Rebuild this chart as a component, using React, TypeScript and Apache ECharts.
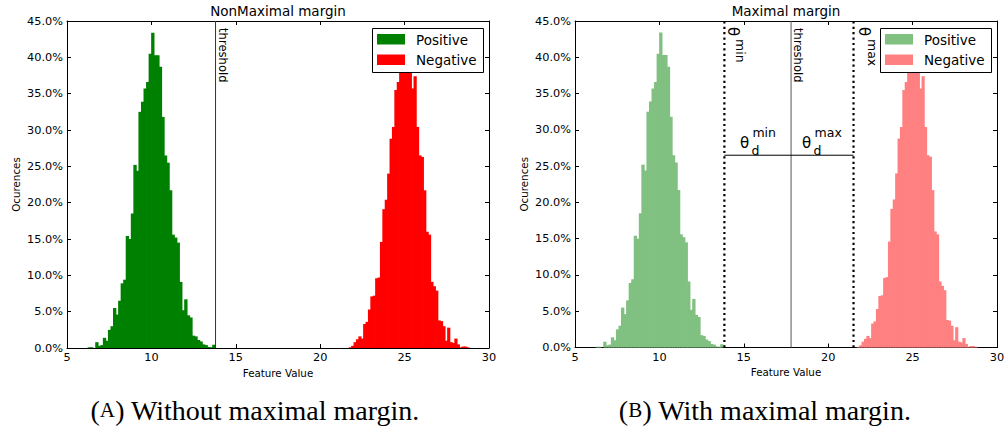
import React, { useEffect, useRef } from "react";
import * as echarts from "echarts";

// ---- data ----
const X_TICKS = [5, 10, 15, 20, 25, 30];
const Y_MAX_PCT = 45;
const Y_STEP_PCT = 5;

// Positive (green) histogram: 50 bins, first edge and bin width
const POS_START = 6.22;
const POS_WIDTH = 0.1506;
const POS_VALUES = [
  0.1, 0.1, 0, 0.8, 0.3, 0.4, 1.4, 1.0, 2.5, 3.0,
  5.5, 4.6, 6.5, 8.9, 9.4, 15.4, 15.0, 18.5, 25.2, 24.4,
  32.5, 33.9, 35.7, 36.6, 40.5, 43.4, 40.3, 40.3, 38.7, 31.8,
  26.5, 25.5, 21.7, 15.6, 15.2, 14.5, 9.1, 5.2, 6.7, 4.5,
  4.2, 1.7, 1.6, 1.1, 0.9, 0.5, 0.4, 0.15, 0.1, 0.45,
];

// Negative (red) histogram
const NEG_START = 21.69;
const NEG_WIDTH = 0.1422;
const NEG_VALUES = [
  0.1, 0.3, 0.8, 1.2, 1.6, 1.3, 3.3, 3.6, 5.3, 7.1,
  7.2, 9.6, 9.7, 14.6, 19.1, 20.4, 24.0, 28.8, 30.4, 35.5,
  36.6, 40.0, 43.0, 41.0, 42.0, 38.5, 35.7, 37.4, 30.4, 26.5,
  26.3, 21.7, 16.0, 15.6, 9.1, 8.5, 7.9, 3.8, 3.7, 3.0,
  1.0, 2.8, 0.8, 0.7, 1.3, 0.5, 0.1, 0.2, 0.2, 0.1,
];

const THRESHOLD_A = 13.8;
const THETA_MIN = 13.85;
const THRESHOLD_B = 17.8;
const THETA_MAX = 21.5;
const MARGIN_LEVEL_PCT = 26.5;

const TITLES = ["NonMaximal margin", "Maximal margin"];
const LEGEND_NAMES = ["Positive", "Negative"];
const X_NAME = "Feature Value";
const Y_NAME = "Ocurences";
const CAPTIONS = [
  ["A", " Without maximal margin."],
  ["B", " With maximal margin."],
];

const FONT = "DejaVu Sans";

const GRIDS = [
  { left: 67, top: 21, width: 422, height: 327 },
  { left: 575, top: 21, width: 422, height: 326.5 },
];

function histSeries(
  name: string,
  start: number,
  width: number,
  values: number[],
  color: string,
  axisIdx: number
) {
  const data = values.map((v, i) => [start + i * width, start + (i + 1) * width, v]);
  return {
    type: "custom",
    name,
    xAxisIndex: axisIdx,
    yAxisIndex: axisIdx,
    data,
    encode: { x: [0, 1], y: 2 },
    z: 2,
    renderItem: (_params: any, api: any) => {
      const p0 = api.coord([api.value(0), 0]);
      const p1 = api.coord([api.value(1), api.value(2)]);
      return {
        type: "rect",
        shape: { x: p0[0], y: p1[1], width: p1[0] - p0[0] + 0.8, height: p0[1] - p1[1] },
        style: { fill: color },
      };
    },
  };
}

function lineSeries(points: number[][], axisIdx: number, style: any) {
  return {
    type: "line",
    xAxisIndex: axisIdx,
    yAxisIndex: axisIdx,
    data: points,
    symbol: "none",
    silent: true,
    z: 5,
    lineStyle: style,
  };
}

export default function App() {
  const ref = useRef<HTMLDivElement>(null);

  useEffect(() => {
    if (!ref.current) return;
    const chart = echarts.init(ref.current, undefined, { renderer: "svg" });

    const xAxes: any[] = [];
    const yAxes: any[] = [];
    GRIDS.forEach((_g, gi) => {
      const base = {
        gridIndex: gi,
        type: "value",
        axisLine: { show: true, onZero: false, lineStyle: { color: "#000", width: 1 } },
        axisTick: { show: true, inside: true, length: 4, lineStyle: { color: "#000" } },
        splitLine: { show: false },
      };
      xAxes.push({
        ...base,
        position: "bottom",
        min: X_TICKS[0],
        max: X_TICKS[X_TICKS.length - 1],
        interval: 5,
        name: X_NAME,
        nameLocation: "middle",
        nameGap: 18,
        nameTextStyle: { fontFamily: FONT, fontSize: 10.3, color: "#000" },
        axisLabel: { fontFamily: FONT, fontSize: 11.3, color: "#000", margin: 4 },
      });
      xAxes.push({
        ...base,
        position: "top",
        min: X_TICKS[0],
        max: X_TICKS[X_TICKS.length - 1],
        interval: 5,
        axisLabel: { show: false },
      });
      yAxes.push({
        ...base,
        position: "left",
        min: 0,
        max: Y_MAX_PCT,
        interval: Y_STEP_PCT,
        name: Y_NAME,
        nameLocation: "middle",
        nameGap: 46,
        nameTextStyle: { fontFamily: FONT, fontSize: 10.3, color: "#000" },
        axisLabel: {
          fontFamily: FONT,
          fontSize: 11.3,
          color: "#000",
          margin: 4,
          formatter: (v: number) => v.toFixed(1) + "%",
        },
      });
      yAxes.push({
        ...base,
        position: "right",
        min: 0,
        max: Y_MAX_PCT,
        interval: Y_STEP_PCT,
        axisLabel: { show: false },
      });
    });

    // axes: grid0 -> x0 (bottom), x1 (top), y0 (left), y1 (right); grid1 -> x2,x3,y2,y3
    const series: any[] = [
      histSeries(LEGEND_NAMES[0], POS_START, POS_WIDTH, POS_VALUES, "#008000", 0),
      histSeries(LEGEND_NAMES[1], NEG_START, NEG_WIDTH, NEG_VALUES, "#ff0000", 0),
      lineSeries([[THRESHOLD_A, 0], [THRESHOLD_A, Y_MAX_PCT]], 0, { color: "#333", width: 1 }),
      histSeries(LEGEND_NAMES[0], POS_START, POS_WIDTH, POS_VALUES, "#80c080", 2),
      histSeries(LEGEND_NAMES[1], NEG_START, NEG_WIDTH, NEG_VALUES, "#ff8080", 2),
      lineSeries([[THRESHOLD_B, 0], [THRESHOLD_B, Y_MAX_PCT]], 2, { color: "#555", width: 1 }),
      lineSeries([[THETA_MIN, 0], [THETA_MIN, Y_MAX_PCT]], 2, { color: "#000", width: 2.2, type: [2.2, 3.2] }),
      lineSeries([[THETA_MAX, 0], [THETA_MAX, Y_MAX_PCT]], 2, { color: "#000", width: 2.2, type: [2.2, 3.2] }),
      lineSeries([[THETA_MIN, MARGIN_LEVEL_PCT], [THETA_MAX, MARGIN_LEVEL_PCT]], 2, { color: "#000", width: 1 }),
    ];

    chart.setOption({
      animation: false,
      backgroundColor: "#fff",
      grid: GRIDS.map((g) => ({ ...g, containLabel: false })),
      xAxis: xAxes,
      yAxis: yAxes,
      series,
    });

    const px = (gi: number, x: number, y: number) =>
      chart.convertToPixel({ xAxisIndex: gi * 2, yAxisIndex: gi * 2 }, [x, y]) as number[];

    const graphics: any[] = [];
    const textStyle = (text: string, size: number, extra: any = {}) => ({
      text,
      fontFamily: FONT,
      fontSize: size,
      fill: "#000",
      ...extra,
    });

    GRIDS.forEach((g, gi) => {
      // title
      graphics.push({
        type: "text",
        x: g.left + g.width / 2,
        y: 11,
        style: textStyle(TITLES[gi], 13.5, { align: "center", verticalAlign: "middle" }),
      });
      // legend
      const lx = g.left + g.width - 6 - 111;
      const ly = g.top + 7;
      const colors = gi === 0 ? ["#008000", "#ff0000"] : ["#80c080", "#ff8080"];
      graphics.push({
        type: "rect",
        z: 50,
        shape: { x: lx + 0.5, y: ly + 0.5, width: 111, height: 44 },
        style: { fill: "#fff", stroke: "#000", lineWidth: 1 },
      });
      LEGEND_NAMES.forEach((name, k) => {
        graphics.push({
          type: "rect",
          z: 51,
          shape: { x: lx + 5, y: ly + 6 + k * 20.5, width: 28, height: 10.5 },
          style: { fill: colors[k] },
        });
        graphics.push({
          type: "text",
          z: 51,
          x: lx + 44,
          y: ly + 11.5 + k * 20.5,
          style: textStyle(name, 13.5, { align: "left", verticalAlign: "middle" }),
        });
      });
      // caption
      graphics.push({
        type: "text",
        x: gi === 0 ? 255 : 765,
        y: 410,
        style: {
          text: "(" + "{sc|" + CAPTIONS[gi][0] + "})" + CAPTIONS[gi][1],
          fontFamily: "Liberation Serif",
          fontSize: 28,
          fill: "#000",
          align: "center",
          verticalAlign: "middle",
          rich: {
            sc: { fontFamily: "Liberation Serif", fontSize: 21, fill: "#000" },
          },
        },
      });
    });

    // threshold label, left plot
    const thA = px(0, THRESHOLD_A, Y_MAX_PCT);
    graphics.push({
      type: "text",
      x: thA[0] + 1,
      y: thA[1] + 7,
      rotation: -Math.PI / 2,
      style: textStyle("threshold", 11.6, { align: "left", verticalAlign: "bottom" }),
    });
    // right plot labels
    const thB = px(1, THRESHOLD_B, Y_MAX_PCT);
    graphics.push({
      type: "text",
      x: thB[0] + 1,
      y: thB[1] + 7,
      rotation: -Math.PI / 2,
      style: textStyle("threshold", 11.6, { align: "left", verticalAlign: "bottom" }),
    });
    const tmin = px(1, THETA_MIN, Y_MAX_PCT);
    const tmax = px(1, THETA_MAX, Y_MAX_PCT);
    const rotLabel = (ax: number, ay: number, sup: string) => ({
      type: "group",
      x: ax,
      y: ay,
      rotation: -Math.PI / 2,
      children: [
        { type: "text", x: 0, y: 0, style: textStyle("θ", 15, { align: "left", verticalAlign: "bottom" }) },
        { type: "text", x: 12, y: -9, style: textStyle(sup, 12.5, { align: "left", verticalAlign: "bottom" }) },
      ],
    });
    graphics.push(rotLabel(tmin[0] + 1, tmin[1] + 6, "min"));
    graphics.push(rotLabel(tmax[0] + 3, tmax[1] + 6, "max"));

    const lvlMin = px(1, THETA_MIN, MARGIN_LEVEL_PCT);
    const lvlTh = px(1, THRESHOLD_B, MARGIN_LEVEL_PCT);
    const dLabel = (ax: number, ay: number, sup: string) => ({
      type: "group",
      x: ax,
      y: ay,
      children: [
        { type: "text", x: 0, y: -12, style: textStyle("θ", 15, { align: "left", verticalAlign: "middle" }) },
        { type: "text", x: 11.5, y: -5, style: textStyle("d", 12.5, { align: "left", verticalAlign: "middle" }) },
        { type: "text", x: 12.5, y: -23, style: textStyle(sup, 12.5, { align: "left", verticalAlign: "middle" }) },
      ],
    });
    graphics.push(dLabel(lvlMin[0] + 15.5, lvlMin[1], "min"));
    graphics.push(dLabel(lvlTh[0] + 11, lvlTh[1], "max"));

    chart.setOption({ graphic: graphics });

    return () => chart.dispose();
  }, []);

  return (
    <div
      ref={ref}
      style={{ position: "fixed", left: 0, top: 0, width: 1008, height: 432, background: "#fff" }}
    />
  );
}
